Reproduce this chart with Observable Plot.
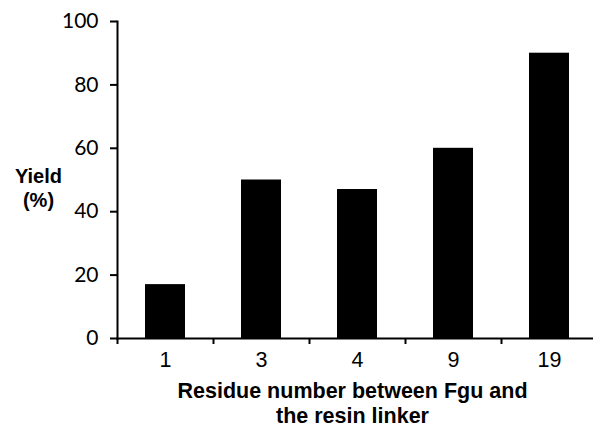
<!DOCTYPE html>
<html>
<head>
<meta charset="utf-8">
<script src="https://cdn.jsdelivr.net/npm/d3@7"></script>
<script src="https://cdn.jsdelivr.net/npm/@observablehq/plot@0.6"></script>
<style>
html, body { margin: 0; padding: 0; background: #fff; }
#chart { width: 593px; height: 429px; overflow: hidden; }
</style>
</head>
<body>
<div id="chart"></div>
<script>
const categories = ["1", "3", "4", "9", "19"];
const yields = [17, 50, 47, 60, 90];
const yTicks = [0, 20, 40, 60, 80, 100];

const data = categories.map((c, i) => ({cat: c, i, value: yields[i]}));

const chart = Plot.plot({
  width: 593,
  height: 429,
  marginLeft: 117,
  marginTop: 21,
  marginBottom: 91,
  marginRight: 0,
  style: {fontFamily: "Lato", color: "#000", background: "#fff", overflow: "visible"},
  x: {domain: [0, categories.length], range: [117, 597]},
  y: {domain: [0, 100]},
  marks: [
    Plot.rectY(data, {x1: d => d.i, x2: d => d.i + 1, y1: 0, y2: "value", fill: "#000", insetLeft: 28, insetRight: 28}),
    Plot.frame({anchor: "left", strokeWidth: 2}),
    Plot.frame({anchor: "bottom", strokeWidth: 2}),
    Plot.axisY({ticks: yTicks, tickSize: 7, tickPadding: 12, fontSize: 21, strokeWidth: 2, label: null}),
    Plot.axisX({ticks: d3.range(0, categories.length + 1), tickSize: 6, tickFormat: () => "", strokeWidth: 2, label: null}),
    Plot.axisX({ticks: categories.map((c, i) => i + 0.5), tickSize: 0, tickPadding: 13, fontSize: 21.5, fontFamily: "Liberation Sans", tickFormat: v => categories[Math.floor(v)], label: null}),
    Plot.text(["Yield\n(%)"], {frameAnchor: "left", dx: -79, dy: 7, fontSize: 20, fontWeight: "bold", fontFamily: "Liberation Sans", textAnchor: "middle", lineAnchor: "middle", lineHeight: 1.2}),
    Plot.text(["Residue number between Fgu and\nthe resin linker"], {frameAnchor: "bottom", dx: -3, dy: 64, fontSize: 21.5, fontWeight: "bold", fontFamily: "Liberation Sans", textAnchor: "middle", lineAnchor: "middle", lineHeight: 1.15})
  ]
});
document.getElementById("chart").appendChild(chart);
</script>
</body>
</html>
